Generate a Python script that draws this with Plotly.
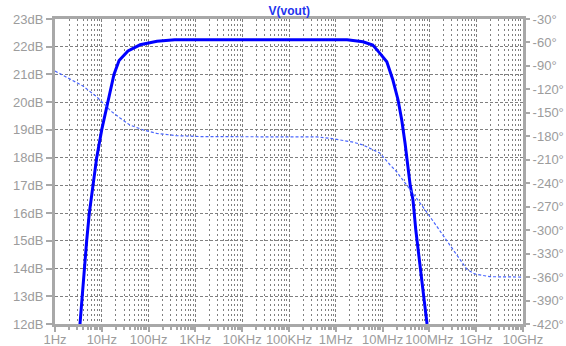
import plotly.graph_objects as go

# ---- data ----
mag_freq = [3.42, 3.78, 4.23, 4.75, 5.41, 6.40, 7.78, 9.95, 13.8, 18.2, 23.4, 36.3, 66, 151, 363,
            1.74e6, 3.8e6, 6.17e6, 8.7e6, 1.23e7, 1.66e7, 2.14e7, 2.57e7, 3.02e7, 3.89e7, 4.47e7,
            5.13e7, 6.61e7, 7.59e7, 8.91e7]
mag_db = [12.0, 13.0, 14.0, 15.0, 16.0, 17.0, 18.0, 19.0, 20.1, 21.0, 21.5, 21.85, 22.07, 22.2, 22.25,
          22.25, 22.18, 22.06, 21.77, 21.46, 20.80, 20.08, 19.35, 18.52, 17.0, 16.46,
          15.38, 13.94, 12.97, 12.0]

ph_freq = [1, 3.96, 7.78, 9.16, 16.2, 24.5, 39.8, 77.6, 148, 398, 1260, 4680, 3.98e5, 7.59e5,
           1.41e6, 2.34e6, 3.8e6, 8.7e6, 1.45e7, 2.0e7, 2.34e7, 3.55e7, 9.55e7, 1.51e8, 2.51e8,
           4.47e8, 6.31e8, 9.33e8, 1.95e9, 1e10]
ph_deg = [-96.5, -115.7, -129.4, -133.6, -148.5, -156.6, -165.6, -172, -176.2, -179.2, -180.3, -180.5,
          -180.8, -182.5, -185, -187.5, -191, -201.4, -216.7, -225.3, -231, -245, -280, -297, -316,
          -338, -350, -356, -359.5, -360]

x_tickvals = [1, 10, 100, 1e3, 1e4, 1e5, 1e6, 1e7, 1e8, 1e9, 1e10]
x_ticktext = ["1Hz", "10Hz", "100Hz", "1KHz", "10KHz", "100KHz", "1MHz", "10MHz", "100MHz", "1GHz", "10GHz"]
x_minor = [m * d for d in x_tickvals[:-1] for m in range(2, 10)]

db_tickvals = list(range(12, 24))
db_ticktext = [f"{v}dB" for v in db_tickvals]
deg_tickvals = list(range(-420, 0, 30))
deg_ticktext = [f"{v}°" for v in deg_tickvals]

GRAY = "#a8a8a8"
GRID = "#808080"
LABEL = "#9c9c9c"
FONT = "Liberation Sans, Arial, sans-serif"

fig = go.Figure()
fig.add_trace(go.Scatter(x=ph_freq, y=ph_deg, yaxis="y2", mode="lines",
                         line=dict(color="#4a66ff", width=1.2, dash="3px,2px"), showlegend=False))
fig.add_trace(go.Scatter(x=mag_freq, y=mag_db, mode="lines",
                         line=dict(color="#0000ff", width=3), showlegend=False))

fig.update_layout(
    width=566, height=346,
    margin=dict(l=55, r=43, t=19, b=22, autoexpand=False),
    plot_bgcolor="white", paper_bgcolor="white",
    font=dict(family=FONT, size=13, color=LABEL),
    title=dict(text="<b>V(vout)</b>", x=0.511, xanchor="center", y=0.97, yanchor="middle",
               font=dict(family=FONT, size=12, color="#2233ee")),
    xaxis=dict(type="log", range=[0, 10], tickmode="array", tickvals=x_tickvals, ticktext=x_ticktext,
               automargin=False, tickangle=0, ticklabelstandoff=-4,
               showline=True, linecolor=GRAY, linewidth=3, mirror=True,
               ticks="outside", ticklen=5, tickwidth=2, tickcolor=GRAY,
               showgrid=True, gridcolor=GRID, gridwidth=1, griddash="3px,2px",
               minor=dict(tickmode="array", tickvals=x_minor, ticks="outside", ticklen=3,
                          tickwidth=2, tickcolor=GRAY, showgrid=True, gridcolor=GRID,
                          gridwidth=1, griddash="2px,3px"),
               zeroline=False, tickfont=dict(color=LABEL, size=13)),
    yaxis=dict(range=[12, 23], tickmode="array", tickvals=db_tickvals, ticktext=db_ticktext,
               automargin=False,
               showline=True, linecolor=GRAY, linewidth=3, mirror=True,
               ticks="outside", ticklen=6, tickwidth=2, tickcolor=GRAY,
               showgrid=True, gridcolor=GRID, gridwidth=1, griddash="3px,2px",
               zeroline=False, tickfont=dict(color=LABEL, size=13)),
    yaxis2=dict(range=[-420, -30], overlaying="y", side="right", tickmode="array",
                tickvals=deg_tickvals, ticktext=deg_ticktext, automargin=False,
                showline=False, ticks="outside", ticklen=6, tickwidth=2, tickcolor=GRAY,
                showgrid=False, zeroline=False, tickfont=dict(color=LABEL, size=13)),
)

fig.write_html("out.html", config={"displayModeBar": False},
               post_script="document.body.style.margin='0';document.body.style.overflow='hidden';")
